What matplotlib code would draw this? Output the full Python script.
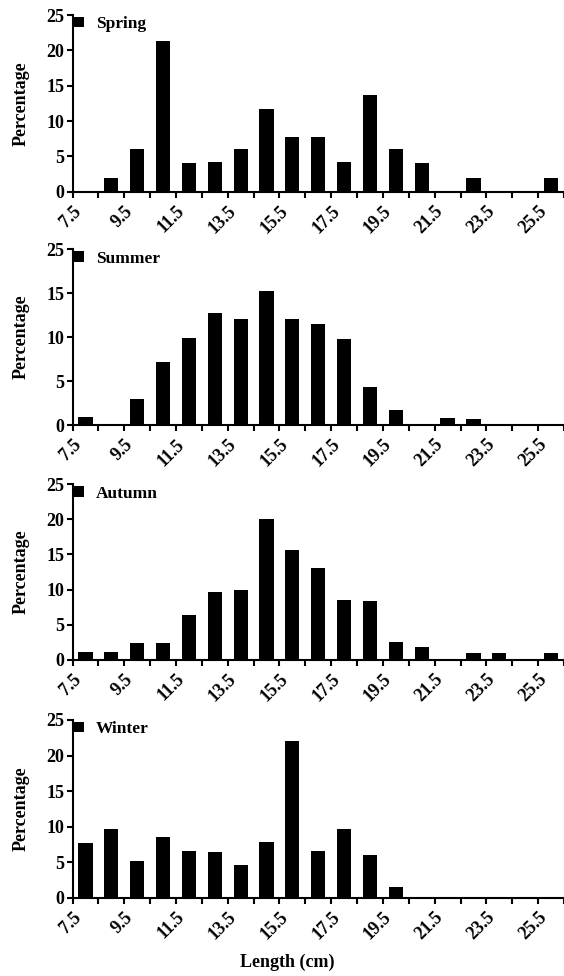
import matplotlib
matplotlib.use("Agg")
import matplotlib.pyplot as plt
import numpy as np

plt.rcParams['font.family'] = ['Liberation Serif', 'DejaVu Serif']
plt.rcParams['font.weight'] = 'bold'

# bin centres (cm)
length_bins = [8, 9, 10, 11, 12, 13, 14, 15, 16, 17, 18, 19, 20, 21, 22, 23, 24, 25, 26]
tick_positions = [7.5 + i for i in range(20)]
tick_labels = ['7.5', '', '9.5', '', '11.5', '', '13.5', '', '15.5', '', '17.5', '',
               '19.5', '', '21.5', '', '23.5', '', '25.5', '']

spring = [0, 2.0, 6.1, 21.3, 4.1, 4.2, 6.1, 11.7, 7.8, 7.8, 4.2, 13.7, 6.1, 4.1, 0, 2.0, 0, 0, 2.0]
summer = [0.9, 0, 3.0, 7.2, 9.9, 12.8, 12.1, 15.3, 12.1, 11.5, 9.8, 4.3, 1.7, 0, 0.8, 0.7, 0, 0, 0]
autumn = [1.1, 1.1, 2.4, 2.4, 6.3, 9.7, 10.0, 20.1, 15.7, 13.0, 8.5, 8.4, 2.5, 1.8, 0, 0.9, 0.9, 0, 1.0]
winter = [7.7, 9.6, 5.2, 8.6, 6.5, 6.4, 4.6, 7.9, 22.0, 6.5, 9.6, 6.0, 1.5, 0, 0, 0, 0, 0, 0]

seasons = ['Spring', 'Summer', 'Autumn', 'Winter']
series = [spring, summer, autumn, winter]
y_ticks = [[0, 5, 10, 15, 20, 25], [0, 5, 10, 15, 20], [0, 5, 10, 15, 20, 25], [0, 5, 10, 15, 20, 25]]
y_ticklabels = [['0', '5', '10', '15', '20', '25'], ['0', '5', '10', '15', '25'],
                ['0', '5', '10', '15', '20', '25'], ['0', '5', '10', '15', '20', '25']]
y_max = [25, 20, 25, 25]

W, H = 564, 976
fig = plt.figure(figsize=(W / 100, H / 100), dpi=100)

# (top, bottom) in pixels for each panel
panels = [(15, 191.7), (249.3, 425), (484.3, 659.7), (720, 897.7)]
left_px, right_px = 72.5, 564

for k, (name, vals) in enumerate(zip(seasons, series)):
    top, bot = panels[k]
    ax = fig.add_axes([left_px / W, (H - bot) / H, (right_px - left_px) / W, (bot - top) / H])
    ax.bar(length_bins, vals, width=0.55, color='black', label=name)
    ax.set_xlim(7.5, 26.5)
    ax.set_ylim(0, y_max[k])
    ax.set_yticks(y_ticks[k])
    ax.set_yticklabels(y_ticklabels[k], fontsize=13, fontweight='bold')
    ax.set_xticks(tick_positions)
    ax.set_xticklabels(tick_labels, fontsize=13, fontweight='bold', rotation=45,
                       ha='right', va='top', rotation_mode='anchor')
    for s in ['top', 'right']:
        ax.spines[s].set_visible(False)
    for s in ['left', 'bottom']:
        ax.spines[s].set_linewidth(1.5)
        ax.spines[s].set_clip_on(False)
    ax.tick_params(axis='both', direction='out', length=4, width=1.5, pad=2)
    ax.tick_params(axis='x', pad=4)
    leg = ax.legend(loc='upper left', bbox_to_anchor=(0.0, 1.003), frameon=False,
                    handlelength=0.55, handleheight=0.55, handletextpad=0.7,
                    borderaxespad=0, borderpad=0.1,
                    prop={'family': 'Liberation Serif', 'weight': 'bold', 'size': 12.5})
    fig.text(21 / W, (H - (top + bot) / 2) / H, 'Percentage', rotation=90,
             ha='center', va='center', fontsize=13, fontweight='bold')

fig.text(287.5 / W, (H - 967) / H, 'Length (cm)', ha='center', va='baseline',
         fontsize=13, fontweight='bold')

fig.savefig('out.png', dpi=100)
